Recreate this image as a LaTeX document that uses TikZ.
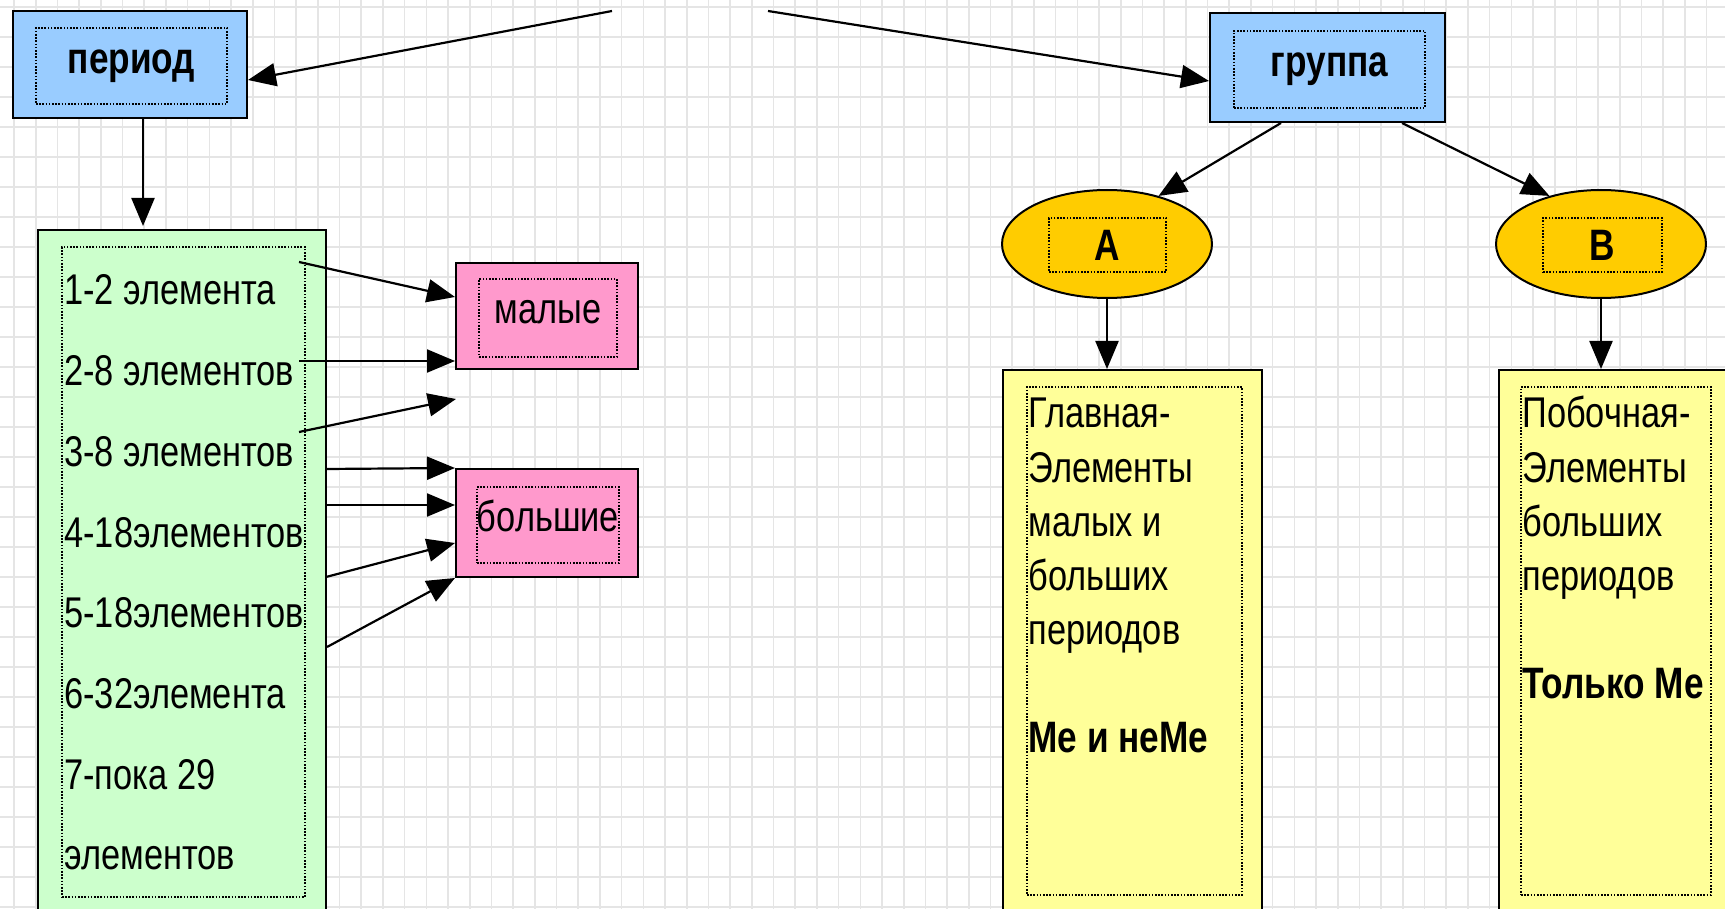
\documentclass[tikz,border=0pt]{standalone}
\usepackage{fontspec}
\setmainfont{Liberation Sans}[FakeStretch=0.8]
\usetikzlibrary{shapes.geometric,arrows.meta}

\definecolor{boxblue}{HTML}{99CCFF}
\definecolor{boxgreen}{HTML}{CCFFCC}
\definecolor{boxpink}{HTML}{FF99CC}
\definecolor{boxorange}{HTML}{FFCC00}
\definecolor{boxyellow}{HTML}{FFFF99}

\tikzset{
  box/.style={draw, line width=1pt, inner sep=0pt},
  frame/.style={draw, line width=0.7pt, dash pattern=on 0.8pt off 0.8pt, inner sep=0pt},
  arr/.style={-{Triangle[length=14pt,width=11.5pt]}, line width=1.1pt},
  gridline/.style={draw=black!10, line width=0.8pt},
  head/.style={font=\fontsize{22}{27}\selectfont\bfseries}
}

\begin{document}
\begin{tikzpicture}[x=0.5pt,y=-0.5pt,font=\fontsize{21.5}{27}\selectfont]
\useasboundingbox (0,0) rectangle (1725,909);
\fill[white] (0,0) rectangle (1725,909);

% grid
\foreach \gx in {14,35.7,...,1725} \draw[gridline] (\gx,0) -- (\gx,909);
\foreach \gy in {7,37,...,909} \draw[gridline] (0,\gy) -- (1725,\gy);

% period
\node[box, fill=boxblue, minimum width=117pt, minimum height=53.5pt] (per) at (130,64.5) {};
\node[frame, head, minimum width=95.5pt, minimum height=38pt] (perf) at (131.5,66) {\raisebox{3pt}{период}};

\node[box, fill=boxgreen, minimum width=144pt, minimum height=342.5pt] (grn) at (182,572.5) {};
\node[frame, minimum width=121.5pt, minimum height=325pt] (grnf) at (183.5,572) {};
\foreach \t [count=\i from 0] in {1-2 элемента,2-8 элементов,3-8 элементов,4-18элементов,5-18элементов,6-32элемента,7-пока 29,элементов}
  \node[anchor=base west, inner sep=0pt] (g\i) at (64,{305+80.7*\i}) {\t};

\node[box, fill=boxpink, minimum width=91pt, minimum height=53pt] (mal) at (547,316) {};
\node[frame, minimum width=69pt, minimum height=39pt] (malf) at (548,318) {\raisebox{6pt}{малые}};
\node[box, fill=boxpink, minimum width=91pt, minimum height=54pt] (bol) at (547,523) {};
\node[frame, minimum width=69pt, minimum height=38pt] (bolf) at (548,525) {\raisebox{9pt}{большие}};

% group
\node[box, fill=boxblue, minimum width=117.5pt, minimum height=54.5pt] (grp) at (1327.5,67.5) {};
\node[frame, head, minimum width=95.5pt, minimum height=38.5pt] (grpf) at (1329.5,69.5) {\raisebox{3pt}{группа}};

\node[box, ellipse, fill=boxorange, minimum width=105pt, minimum height=54pt] (elA) at (1107,244) {};
\node[frame, head, minimum width=58.5pt, minimum height=27pt] (elAf) at (1107.5,245) {А};
\node[box, ellipse, fill=boxorange, minimum width=105pt, minimum height=54pt] (elB) at (1601,244) {};
\node[frame, head, minimum width=59.5pt, minimum height=27pt] (elBf) at (1602.5,245) {В};

\node[box, fill=boxyellow, minimum width=129.5pt, minimum height=272.5pt] (ylA) at (1132.5,642.5) {};
\node[frame, minimum width=107.5pt, minimum height=254pt] (ylAf) at (1134.5,641) {};
\foreach \t [count=\i from 0] in {Главная-,Элементы,малых и,больших,периодов}
  \node[anchor=base west, inner sep=0pt] (a\i) at (1028,{428+54*\i}) {\t};
\node[anchor=base west, inner sep=0pt, head] (am) at (1028,752) {Ме и неМе};

\node[box, fill=boxyellow, minimum width=120.5pt, minimum height=272.5pt] (ylB) at (1619.5,642.5) {};
\node[frame, minimum width=95pt, minimum height=254pt] (ylBf) at (1616,641) {};
\foreach \t [count=\i from 0] in {Побочная-,Элементы,больших,периодов}
  \node[anchor=base west, inner sep=0pt] (b\i) at (1522,{428+54*\i}) {\t};
\node[anchor=base west, inner sep=0pt, head] (bm) at (1522,698) {Только Ме};

% arrows
\coordinate (t1) at (612,11);
\coordinate (t2) at (768,11);
\draw[arr] (t1) -- ([yshift=-7.75pt]per.east);
\draw[arr] (t2) -- ([yshift=-6.75pt]grp.west);

\coordinate (pd) at ([xshift=6.5pt]per.south);
\draw[arr] (pd) -- ([yshift=1.5pt]pd |- grn.north);

\coordinate (s1) at (299,262);
\coordinate (s2) at (299,361);
\coordinate (s3) at (299,432);
\coordinate (s4) at (326,469);
\coordinate (s5) at (326,505);
\coordinate (s6) at (326,577);
\coordinate (s7) at (327,647);
\coordinate (e3) at (456,399);
\draw[arr] (s1) -- ([yshift=9.5pt]mal.west);
\draw[arr] (s2) -- (s2 -| mal.west);
\draw[arr] (s3) -- (e3);
\draw[arr] (s4) -- (bol.north west);
\draw[arr] (s5) -- (s5 -| bol.west);
\draw[arr] (s6) -- ([yshift=-10pt]bol.west);
\draw[arr] (s7) -- (bol.south west);

\draw[arr] ([xshift=-23.25pt]grp.south) -- (elA.43);
\draw[arr] ([xshift=37.25pt]grp.south) -- (elB.137);
\draw[arr] (elA.south) -- (elA.south |- ylA.north);
\draw[arr] (elB.south) -- (elB.south |- ylB.north);

\end{tikzpicture}
\end{document}
